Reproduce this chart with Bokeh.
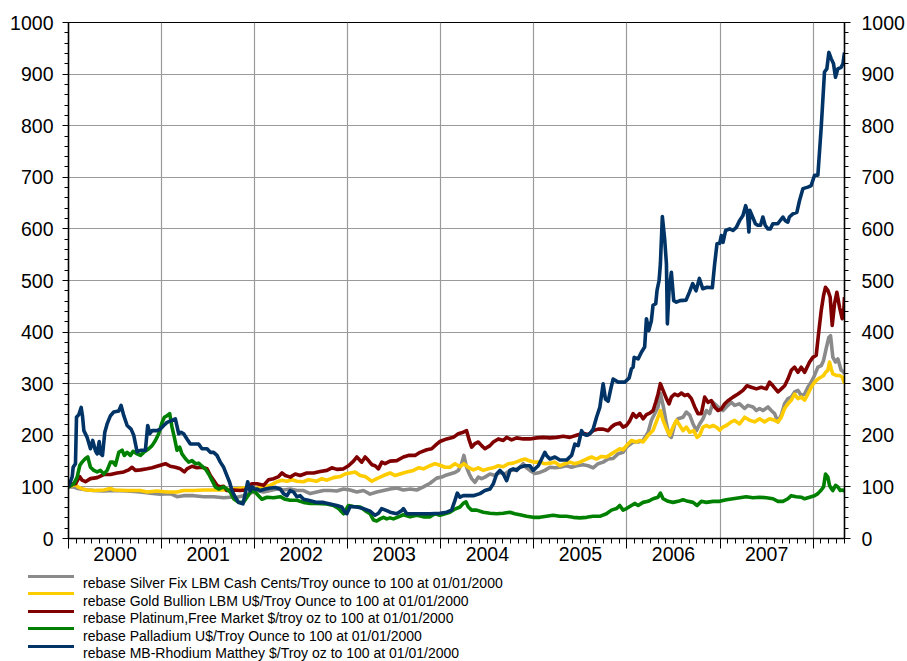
import html
from bokeh.plotting import figure
from bokeh.layouts import column
from bokeh.models import (LinearAxis, FixedTicker, Grid, Range1d, Div,
                          ColumnDataSource, CustomJSTickFormatter)
from bokeh.embed import file_html
from bokeh.resources import INLINE

# ---------------- data (dates as decimal years, values rebased to 100) ----------------
year_starts = [2000, 2001, 2002, 2003, 2004, 2005, 2006, 2007, 2008]
year_labels = ["2000", "2001", "2002", "2003", "2004", "2005", "2006", "2007"]
y_ticks = [0, 100, 200, 300, 400, 500, 600, 700, 800, 900, 1000]

labels = [
    "rebase Silver Fix LBM Cash Cents/Troy ounce to 100 at 01/01/2000",
    "rebase Gold Bullion LBM U$/Troy Ounce to 100 at 01/01/2000",
    "rebase Platinum,Free Market $/troy oz to 100 at 01/01/2000",
    "rebase Palladium U$/Troy Ounce to 100 at 01/01/2000",
    "rebase MB-Rhodium Matthey $/Troy oz to 100 at 01/01/2000",
]
colors = ["#8a8a8a", "#ffcc00", "#800000", "#008000", "#003366"]

silver_t = [2000.000, 2000.050, 2000.100, 2000.200, 2000.272, 2000.379, 2000.486, 2000.630, 2000.773, 2000.880,
            2000.987, 2001.094, 2001.166, 2001.237, 2001.345, 2001.452, 2001.559, 2001.667, 2001.738, 2001.810,
            2001.880, 2001.950, 2002.000, 2002.025, 2002.096, 2002.168, 2002.239, 2002.310, 2002.382, 2002.453,
            2002.525, 2002.597, 2002.668, 2002.739, 2002.811, 2002.882, 2002.955, 2003.026, 2003.097, 2003.169,
            2003.240, 2003.312, 2003.384, 2003.455, 2003.527, 2003.598, 2003.670, 2003.741, 2003.813, 2003.884,
            2003.956, 2004.010, 2004.045, 2004.098, 2004.152, 2004.188, 2004.223, 2004.248, 2004.277, 2004.306,
            2004.331, 2004.367, 2004.403, 2004.438, 2004.474, 2004.528, 2004.582, 2004.635, 2004.688, 2004.742,
            2004.795, 2004.849, 2004.885, 2004.921, 2004.957, 2005.010, 2005.064, 2005.118, 2005.172, 2005.225,
            2005.279, 2005.350, 2005.404, 2005.458, 2005.529, 2005.583, 2005.636, 2005.690, 2005.744, 2005.797,
            2005.851, 2005.904, 2005.958, 2005.995, 2006.065, 2006.119, 2006.173, 2006.227, 2006.263, 2006.298,
            2006.334, 2006.359, 2006.388, 2006.424, 2006.452, 2006.477, 2006.513, 2006.549, 2006.602, 2006.638,
            2006.674, 2006.710, 2006.746, 2006.781, 2006.817, 2006.853, 2006.888, 2006.924, 2006.960, 2006.996,
            2007.031, 2007.067, 2007.121, 2007.157, 2007.210, 2007.264, 2007.300, 2007.354, 2007.390, 2007.425,
            2007.461, 2007.515, 2007.550, 2007.586, 2007.622, 2007.658, 2007.693, 2007.729, 2007.765, 2007.801,
            2007.837, 2007.872, 2007.908, 2007.944, 2007.979, 2008.015, 2008.051, 2008.087, 2008.112, 2008.140,
            2008.169, 2008.187, 2008.212, 2008.241, 2008.266, 2008.301, 2008.327, 2008.337]
silver_v = [100, 100, 97, 94, 93, 92, 93, 92, 90, 88,
            86, 87, 81, 83, 83, 81, 81, 79, 80, 80,
            83, 88, 90, 93, 90, 93, 96, 94, 96, 93,
            93, 87, 90, 93, 93, 92, 96, 94, 90, 93,
            86, 90, 93, 96, 98, 94, 96, 94, 100, 107,
            117, 119, 122, 125, 128, 132, 145, 161, 138, 125,
            116, 109, 119, 116, 119, 125, 122, 128, 125, 132,
            133, 138, 145, 137, 132, 126, 128, 132, 138, 137,
            138, 141, 138, 141, 143, 141, 137, 145, 148, 154,
            155, 164, 167, 177, 187, 187, 190, 206, 229, 242,
            255, 281, 258, 222, 200, 196, 222, 232, 235, 245,
            239, 222, 209, 222, 232, 248, 242, 264, 258, 252,
            248, 255, 264, 258, 261, 252, 258, 255, 248, 252,
            248, 255, 248, 242, 226, 239, 261, 271, 274, 284,
            287, 277, 280, 293, 303, 316, 332, 335, 345, 368,
            390, 393, 351, 342, 348, 326, 323, 319]

gold_t = [2000.000, 2000.050, 2000.075, 2000.100, 2000.150, 2000.200, 2000.272, 2000.379, 2000.451, 2000.490,
          2000.630, 2000.773, 2000.844, 2000.951, 2001.059, 2001.166, 2001.237, 2001.345, 2001.452, 2001.559,
          2001.667, 2001.774, 2001.917, 2001.970, 2002.000, 2002.025, 2002.096, 2002.168, 2002.239, 2002.293,
          2002.346, 2002.400, 2002.453, 2002.525, 2002.578, 2002.668, 2002.722, 2002.776, 2002.847, 2002.919,
          2002.972, 2003.026, 2003.080, 2003.133, 2003.187, 2003.259, 2003.312, 2003.384, 2003.455, 2003.509,
          2003.562, 2003.634, 2003.705, 2003.759, 2003.813, 2003.884, 2003.938, 2003.991, 2004.046, 2004.098,
          2004.152, 2004.206, 2004.248, 2004.295, 2004.349, 2004.403, 2004.456, 2004.510, 2004.563, 2004.617,
          2004.670, 2004.724, 2004.778, 2004.849, 2004.903, 2004.957, 2005.010, 2005.064, 2005.118, 2005.172,
          2005.225, 2005.279, 2005.333, 2005.386, 2005.440, 2005.494, 2005.565, 2005.619, 2005.672, 2005.726,
          2005.780, 2005.833, 2005.887, 2005.922, 2005.958, 2005.995, 2006.048, 2006.102, 2006.138, 2006.173,
          2006.227, 2006.281, 2006.334, 2006.359, 2006.388, 2006.424, 2006.459, 2006.495, 2006.531, 2006.567,
          2006.602, 2006.638, 2006.674, 2006.717, 2006.753, 2006.781, 2006.817, 2006.853, 2006.888, 2006.924,
          2006.960, 2006.996, 2007.031, 2007.067, 2007.121, 2007.157, 2007.210, 2007.264, 2007.318, 2007.371,
          2007.425, 2007.478, 2007.532, 2007.586, 2007.622, 2007.658, 2007.693, 2007.729, 2007.765, 2007.801,
          2007.837, 2007.872, 2007.908, 2007.944, 2007.979, 2008.015, 2008.051, 2008.087, 2008.112, 2008.133,
          2008.158, 2008.176, 2008.194, 2008.212, 2008.248, 2008.284, 2008.312, 2008.337]
gold_v = [100, 103, 105, 100, 96, 94, 93, 94, 97, 94,
          93, 93, 90, 92, 90, 90, 93, 93, 94, 94,
          94, 96, 99, 98, 96, 98, 100, 103, 110, 113,
          111, 114, 111, 110, 114, 111, 116, 113, 118, 120,
          125, 127, 129, 122, 120, 111, 116, 122, 127, 122,
          125, 129, 132, 137, 135, 141, 145, 142, 138, 138,
          145, 139, 145, 138, 133, 137, 132, 135, 137, 141,
          139, 145, 146, 151, 154, 150, 148, 148, 145, 146,
          148, 141, 145, 148, 145, 148, 154, 158, 154, 159,
          158, 164, 170, 174, 172, 180, 190, 187, 190, 187,
          200, 210, 235, 248, 229, 213, 200, 216, 229, 219,
          209, 216, 206, 209, 196, 200, 216, 219, 216, 219,
          216, 210, 216, 219, 226, 229, 222, 235, 229, 226,
          232, 226, 232, 229, 226, 235, 252, 261, 268, 280,
          271, 274, 268, 280, 293, 303, 309, 313, 316, 322,
          326, 342, 329, 319, 316, 316, 313, 300]

platinum_t = [2000.000, 2000.050, 2000.075, 2000.120, 2000.146, 2000.182, 2000.236, 2000.308, 2000.379, 2000.451,
              2000.522, 2000.594, 2000.647, 2000.683, 2000.719, 2000.773, 2000.844, 2000.898, 2000.951, 2001.005,
              2001.041, 2001.094, 2001.148, 2001.202, 2001.245, 2001.273, 2001.327, 2001.380, 2001.434, 2001.488,
              2001.524, 2001.559, 2001.595, 2001.631, 2001.667, 2001.702, 2001.774, 2001.845, 2001.899, 2001.934,
              2001.970, 2002.025, 2002.096, 2002.150, 2002.204, 2002.257, 2002.293, 2002.329, 2002.382, 2002.436,
              2002.489, 2002.561, 2002.633, 2002.704, 2002.776, 2002.829, 2002.883, 2002.955, 2003.008, 2003.062,
              2003.098, 2003.151, 2003.187, 2003.223, 2003.259, 2003.294, 2003.330, 2003.366, 2003.401, 2003.455,
              2003.527, 2003.598, 2003.652, 2003.723, 2003.777, 2003.849, 2003.902, 2003.956, 2003.991, 2004.063,
              2004.134, 2004.188, 2004.242, 2004.277, 2004.306, 2004.331, 2004.367, 2004.403, 2004.438, 2004.474,
              2004.528, 2004.564, 2004.618, 2004.671, 2004.707, 2004.761, 2004.814, 2004.886, 2004.957, 2005.029,
              2005.101, 2005.172, 2005.243, 2005.315, 2005.386, 2005.458, 2005.530, 2005.583, 2005.637, 2005.690,
              2005.744, 2005.798, 2005.833, 2005.869, 2005.923, 2005.958, 2005.994, 2006.030, 2006.066, 2006.100,
              2006.138, 2006.173, 2006.209, 2006.245, 2006.281, 2006.309, 2006.334, 2006.359, 2006.388, 2006.424,
              2006.452, 2006.477, 2006.513, 2006.549, 2006.585, 2006.620, 2006.656, 2006.692, 2006.728, 2006.763,
              2006.799, 2006.835, 2006.870, 2006.906, 2006.942, 2006.978, 2007.014, 2007.050, 2007.085, 2007.139,
              2007.193, 2007.246, 2007.289, 2007.336, 2007.390, 2007.443, 2007.497, 2007.532, 2007.568, 2007.622,
              2007.658, 2007.694, 2007.729, 2007.765, 2007.801, 2007.837, 2007.872, 2007.908, 2007.962, 2007.997,
              2008.033, 2008.062, 2008.087, 2008.112, 2008.133, 2008.158, 2008.183, 2008.205, 2008.230, 2008.255,
              2008.284, 2008.312, 2008.330, 2008.337]
platinum_v = [100, 106, 106, 120, 113, 110, 116, 118, 124, 124,
              127, 129, 133, 138, 132, 133, 135, 137, 140, 143,
              145, 140, 138, 135, 129, 135, 140, 137, 138, 135,
              122, 113, 103, 100, 101, 93, 94, 93, 94, 103,
              106, 106, 103, 114, 116, 120, 127, 122, 119, 125,
              122, 127, 127, 130, 132, 137, 134, 135, 141, 150,
              158, 148, 158, 151, 143, 141, 135, 148, 145, 150,
              151, 158, 161, 161, 167, 172, 174, 183, 188, 193,
              196, 203, 206, 209, 190, 177, 184, 187, 180, 174,
              180, 187, 193, 190, 196, 191, 195, 193, 193, 195,
              196, 195, 196, 198, 196, 200, 204, 201, 209, 212,
              212, 209, 216, 221, 224, 216, 219, 228, 242, 235,
              242, 232, 240, 243, 248, 264, 280, 300, 287, 271,
              261, 274, 280, 277, 282, 277, 279, 271, 255, 242,
              242, 274, 264, 267, 255, 248, 251, 261, 267, 274,
              280, 287, 296, 293, 290, 293, 290, 303, 296, 284,
              290, 296, 309, 326, 332, 322, 332, 322, 342, 351,
              355, 403, 442, 471, 487, 481, 468, 413, 455, 477,
              448, 426, 445, 468]

palladium_t = [2000.000, 2000.057, 2000.093, 2000.122, 2000.146, 2000.182, 2000.207, 2000.236, 2000.272, 2000.308,
               2000.343, 2000.379, 2000.415, 2000.451, 2000.478, 2000.504, 2000.540, 2000.576, 2000.600, 2000.630,
               2000.665, 2000.694, 2000.737, 2000.773, 2000.808, 2000.862, 2000.898, 2000.934, 2000.969, 2001.005,
               2001.030, 2001.059, 2001.087, 2001.112, 2001.137, 2001.166, 2001.194, 2001.219, 2001.255, 2001.291,
               2001.327, 2001.363, 2001.398, 2001.434, 2001.470, 2001.506, 2001.541, 2001.577, 2001.613, 2001.667,
               2001.702, 2001.738, 2001.774, 2001.827, 2001.881, 2001.917, 2001.970, 2002.006, 2002.042, 2002.078,
               2002.132, 2002.203, 2002.275, 2002.328, 2002.382, 2002.453, 2002.525, 2002.597, 2002.668, 2002.776,
               2002.847, 2002.901, 2002.955, 2003.008, 2003.062, 2003.133, 2003.187, 2003.240, 2003.276, 2003.312,
               2003.348, 2003.384, 2003.419, 2003.455, 2003.491, 2003.545, 2003.598, 2003.670, 2003.741, 2003.813,
               2003.884, 2003.938, 2003.991, 2004.045, 2004.098, 2004.152, 2004.206, 2004.241, 2004.270, 2004.295,
               2004.331, 2004.385, 2004.456, 2004.528, 2004.599, 2004.670, 2004.742, 2004.795, 2004.849, 2004.921,
               2004.992, 2005.064, 2005.135, 2005.207, 2005.279, 2005.350, 2005.422, 2005.493, 2005.565, 2005.636,
               2005.708, 2005.779, 2005.833, 2005.887, 2005.922, 2005.958, 2005.995, 2006.030, 2006.083, 2006.120,
               2006.173, 2006.227, 2006.281, 2006.334, 2006.359, 2006.388, 2006.442, 2006.495, 2006.549, 2006.602,
               2006.656, 2006.710, 2006.753, 2006.799, 2006.853, 2006.924, 2006.996, 2007.067, 2007.139, 2007.210,
               2007.282, 2007.354, 2007.425, 2007.497, 2007.568, 2007.622, 2007.675, 2007.729, 2007.765, 2007.818,
               2007.872, 2007.908, 2007.962, 2008.015, 2008.051, 2008.087, 2008.112, 2008.133, 2008.158, 2008.176,
               2008.194, 2008.212, 2008.241, 2008.266, 2008.291, 2008.320, 2008.337]
palladium_v = [100, 106, 119, 142, 148, 155, 158, 138, 132, 129,
               132, 125, 132, 148, 148, 142, 167, 171, 161, 167,
               161, 169, 164, 161, 167, 174, 180, 190, 203, 225,
               235, 238, 242, 216, 196, 171, 177, 164, 155, 148,
               151, 145, 146, 140, 135, 125, 113, 100, 96, 100,
               96, 90, 77, 70, 70, 80, 93, 90, 83, 76,
               80, 79, 81, 76, 74, 74, 70, 68, 68, 67,
               64, 58, 48, 64, 62, 61, 54, 48, 36, 34,
               38, 41, 38, 40, 38, 42, 46, 42, 45, 42,
               42, 48, 45, 48, 51, 57, 61, 68, 71, 61,
               55, 55, 51, 49, 48, 49, 51, 48, 46, 43,
               41, 41, 43, 45, 43, 43, 41, 40, 41, 43,
               43, 48, 55, 58, 64, 55, 58, 62, 68, 64,
               70, 72, 77, 80, 88, 77, 72, 70, 72, 75,
               72, 70, 64, 72, 70, 72, 72, 75, 77, 79,
               81, 79, 80, 79, 77, 72, 72, 77, 83, 81,
               80, 77, 80, 83, 87, 94, 100, 125, 119, 103,
               97, 93, 103, 100, 93, 94, 91]

rhodium_t = [2000.000, 2000.040, 2000.050, 2000.075, 2000.086, 2000.111, 2000.136, 2000.150, 2000.165, 2000.200,
             2000.236, 2000.260, 2000.290, 2000.308, 2000.330, 2000.343, 2000.365, 2000.390, 2000.415, 2000.451,
             2000.486, 2000.540, 2000.565, 2000.594, 2000.630, 2000.672, 2000.701, 2000.737, 2000.773, 2000.826,
             2000.851, 2000.873, 2000.898, 2000.951, 2000.987, 2001.023, 2001.059, 2001.112, 2001.148, 2001.184,
             2001.209, 2001.237, 2001.273, 2001.309, 2001.345, 2001.398, 2001.434, 2001.488, 2001.524, 2001.559,
             2001.595, 2001.631, 2001.667, 2001.702, 2001.731, 2001.756, 2001.792, 2001.827, 2001.874, 2001.899,
             2001.925, 2001.950, 2001.975, 2002.006, 2002.024, 2002.060, 2002.114, 2002.167, 2002.221, 2002.275,
             2002.310, 2002.346, 2002.382, 2002.418, 2002.453, 2002.489, 2002.525, 2002.578, 2002.668, 2002.739,
             2002.811, 2002.882, 2002.936, 2002.972, 2002.990, 2003.026, 2003.097, 2003.169, 2003.240, 2003.294,
             2003.330, 2003.365, 2003.419, 2003.455, 2003.526, 2003.580, 2003.598, 2003.634, 2003.741, 2003.884,
             2003.991, 2004.063, 2004.116, 2004.152, 2004.177, 2004.206, 2004.242, 2004.295, 2004.349, 2004.421,
             2004.474, 2004.528, 2004.564, 2004.600, 2004.635, 2004.671, 2004.707, 2004.743, 2004.778, 2004.814,
             2004.850, 2004.904, 2004.957, 2004.993, 2005.047, 2005.083, 2005.118, 2005.136, 2005.172, 2005.226,
             2005.279, 2005.351, 2005.405, 2005.440, 2005.476, 2005.512, 2005.530, 2005.565, 2005.601, 2005.637,
             2005.673, 2005.708, 2005.744, 2005.769, 2005.798, 2005.826, 2005.851, 2005.905, 2005.977, 2006.023,
             2006.048, 2006.066, 2006.077, 2006.120, 2006.155, 2006.190, 2006.209, 2006.234, 2006.262, 2006.280,
             2006.309, 2006.323, 2006.345, 2006.359, 2006.380, 2006.406, 2006.424, 2006.434, 2006.452, 2006.477,
             2006.502, 2006.531, 2006.570, 2006.635, 2006.670, 2006.706, 2006.742, 2006.778, 2006.814, 2006.860,
             2006.917, 2006.942, 2006.967, 2006.996, 2007.014, 2007.032, 2007.060, 2007.103, 2007.139, 2007.175,
             2007.210, 2007.246, 2007.275, 2007.293, 2007.310, 2007.320, 2007.350, 2007.380, 2007.405, 2007.435,
             2007.460, 2007.485, 2007.514, 2007.540, 2007.567, 2007.620, 2007.675, 2007.700, 2007.728, 2007.745,
             2007.782, 2007.825, 2007.854, 2007.890, 2007.944, 2007.979, 2008.015, 2008.051, 2008.087, 2008.122,
             2008.147, 2008.169, 2008.194, 2008.219, 2008.240, 2008.265, 2008.300, 2008.320, 2008.337]
rhodium_v = [100, 120, 138, 145, 235, 240, 254, 238, 209, 196,
             174, 190, 170, 164, 188, 165, 161, 206, 222, 238,
             245, 247, 258, 238, 219, 212, 200, 168, 171, 171,
             219, 203, 209, 209, 212, 219, 225, 229, 232, 203,
             206, 203, 193, 183, 183, 183, 174, 174, 167, 167,
             161, 148, 138, 122, 109, 93, 80, 70, 67, 87,
             110, 92, 100, 95, 96, 93, 96, 98, 99, 96,
             87, 83, 93, 90, 81, 83, 76, 74, 70, 70,
             67, 64, 61, 50, 48, 62, 61, 58, 53, 45,
             49, 58, 54, 51, 48, 54, 58, 48, 48, 48,
             49, 51, 55, 74, 88, 80, 83, 83, 83, 87,
             93, 96, 106, 125, 132, 125, 112, 132, 135, 132,
             138, 141, 141, 132, 141, 154, 167, 161, 154, 158,
             152, 152, 161, 183, 180, 209, 203, 200, 203, 212,
             235, 254, 300, 270, 266, 290, 309, 303, 303, 311,
             329, 332, 351, 348, 361, 371, 426, 403, 422, 452,
             455, 481, 500, 532, 624, 578, 532, 416, 481, 516,
             461, 458, 461, 462, 477, 494, 480, 504, 484, 487,
             486, 532, 571, 572, 587, 574, 597, 600, 597, 603,
             616, 626, 645, 633, 594, 636, 623, 610, 607, 607,
             623, 607, 600, 600, 610, 610, 623, 616, 613, 623,
             629, 632, 655, 678, 681, 684, 704, 704, 797, 904,
             910, 942, 930, 920, 894, 910, 913, 920, 942]

series = [(silver_t, silver_v), (gold_t, gold_v), (platinum_t, platinum_v),
          (palladium_t, palladium_v), (rhodium_t, rhodium_v)]

# ---------------- main figure ----------------
FONT = "Liberation Sans"
TICK_FS = "19.5px"
W = 907
H_MAIN = 574
H_LEG = 87

p = figure(width=W, height=H_MAIN, title=None,
           x_range=Range1d(2000, 2008.337), y_range=Range1d(0, 1000),
           x_axis_type=None, y_axis_type=None,
           output_backend="svg", toolbar_location=None,
           min_border_left=68, min_border_right=62, min_border_top=22, min_border_bottom=36)
p.outline_line_color = "black"
p.outline_line_width = 1
p.background_fill_color = "white"
p.border_fill_color = "white"

vgrid = Grid(dimension=0, ticker=FixedTicker(ticks=year_starts[1:]),
             grid_line_color="#9a9a9a", grid_line_width=1.2)
hgrid = Grid(dimension=1, ticker=FixedTicker(ticks=y_ticks[1:-1]),
             grid_line_color="#9a9a9a", grid_line_width=1.2)
p.add_layout(vgrid)
p.add_layout(hgrid)

minor_y = list(range(0, 1001, 20))


def style_axis(ax):
    ax.axis_line_color = "black"
    ax.axis_line_width = 1.6
    ax.major_tick_line_color = "black"
    ax.minor_tick_line_color = "black"
    ax.major_tick_in = 0
    ax.minor_tick_in = 0
    ax.major_label_text_font = FONT
    ax.major_label_text_font_size = TICK_FS
    ax.major_label_text_color = "black"


left_ax = LinearAxis(ticker=FixedTicker(ticks=y_ticks, minor_ticks=minor_y))
style_axis(left_ax)
left_ax.major_tick_out = 6
left_ax.minor_tick_out = 4
left_ax.major_label_standoff = 9
p.add_layout(left_ax, "left")

right_ax = LinearAxis(ticker=FixedTicker(ticks=y_ticks, minor_ticks=minor_y))
style_axis(right_ax)
right_ax.major_tick_out = 6
right_ax.minor_tick_out = 4
right_ax.major_label_standoff = 11
p.add_layout(right_ax, "right")

# x axis: ticks at year boundaries + monthly minor ticks (labels empty)
months = [2000 + m / 12 for m in range(0, 101)]
x_tick_ax = LinearAxis(ticker=FixedTicker(ticks=year_starts, minor_ticks=months),
                       formatter=CustomJSTickFormatter(code="return '';"))
style_axis(x_tick_ax)
x_tick_ax.major_tick_out = 10
x_tick_ax.minor_tick_out = 5
x_tick_ax.major_label_text_font_size = "1px"
x_tick_ax.major_label_standoff = 0
p.add_layout(x_tick_ax, "below")

# x axis: year labels centred in each year
mids = [y + 0.5 for y in year_starts[:-1]]
x_lab_ax = LinearAxis(ticker=FixedTicker(ticks=mids, minor_ticks=[]),
                      formatter=CustomJSTickFormatter(code="return String(Math.floor(tick));"))
style_axis(x_lab_ax)
x_lab_ax.axis_line_color = None
x_lab_ax.major_tick_line_color = None
x_lab_ax.minor_tick_line_color = None
x_lab_ax.major_tick_out = 0
x_lab_ax.minor_tick_out = 0
x_lab_ax.major_label_standoff = -2
p.add_layout(x_lab_ax, "below")

for (t, v), col in zip(series, colors):
    src = ColumnDataSource(dict(x=t, y=v))
    p.line("x", "y", source=src, line_color=col, line_width=3.6, line_join="round")

# ---------------- legend strip (HTML) ----------------
LEG_X0, LEG_GLYPH_W, LEG_STANDOFF = 28, 46, 9
LEG_TOP, LEG_ROW, LEG_TEXT_DY = 2.2, 17.5, 7
parts = []
for i, (lab, col) in enumerate(zip(labels, colors)):
    ly = LEG_TOP + i * LEG_ROW
    parts.append(
        f'<div style="position:absolute;left:{LEG_X0}px;top:{ly - 1.5}px;width:{LEG_GLYPH_W}px;'
        f'height:3px;background:{col};"></div>')
    parts.append(
        f'<div style="position:absolute;left:{LEG_X0 + LEG_GLYPH_W + LEG_STANDOFF}px;'
        f'top:{ly + LEG_TEXT_DY - 8}px;height:16px;line-height:16px;white-space:nowrap;'
        f'font-family:\'Liberation Sans\';font-size:14px;color:black;">{html.escape(lab)}</div>')
legend_html = (f'<div style="position:relative;width:{W}px;height:{H_LEG}px;overflow:hidden;'
               f'background:white;margin:0;padding:0;">' + "".join(parts) + "</div>")
leg = Div(text=legend_html, width=W, height=H_LEG, margin=0)

open("out.html", "w").write(file_html(column(p, leg), INLINE))
